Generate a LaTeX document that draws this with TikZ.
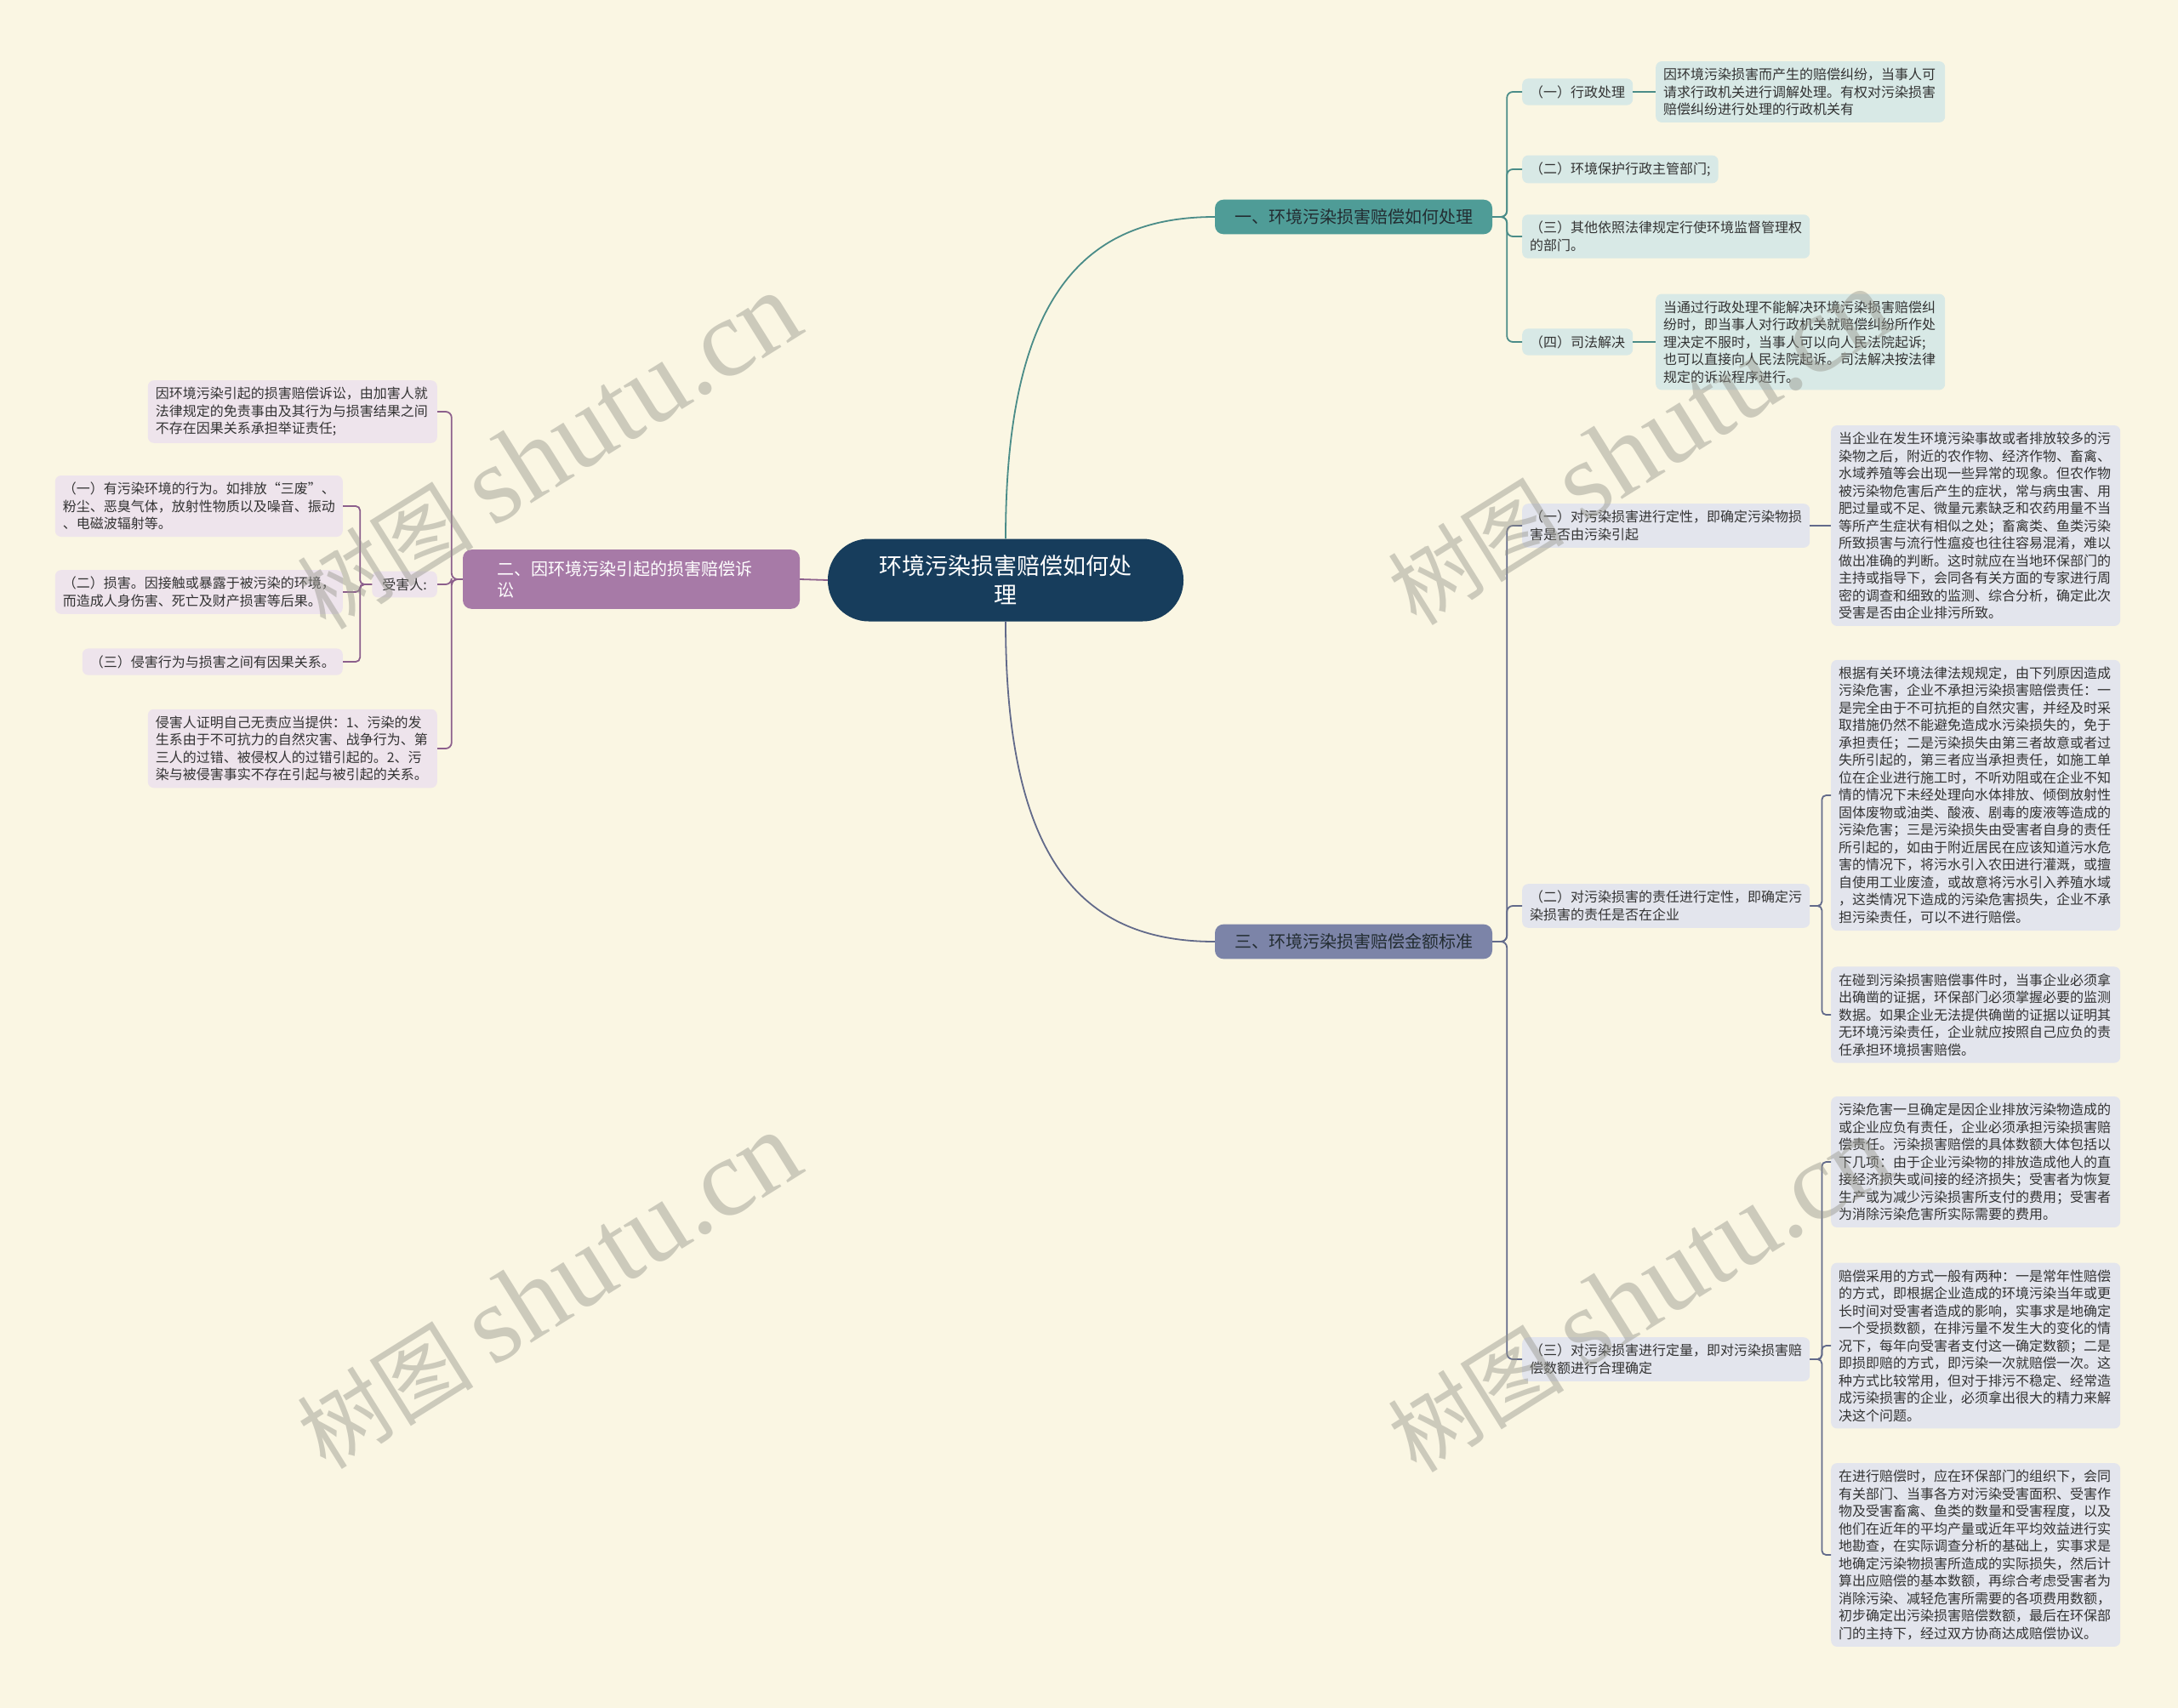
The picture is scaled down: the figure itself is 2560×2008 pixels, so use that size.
\documentclass[tikz,border=0pt]{standalone}
\usepackage{fontspec}
\setmainfont{Noto Sans CJK SC}
\newfontfamily\wmfont{Liberation Serif}
\usetikzlibrary{positioning}

\definecolor{bgcream}{RGB}{250,246,227}
\definecolor{rootblue}{RGB}{23,61,92}
\definecolor{tealmain}{RGB}{79,156,151}
\definecolor{teallight}{RGB}{216,233,230}
\definecolor{teallink}{RGB}{74,140,136}
\definecolor{plummain}{RGB}{167,122,167}
\definecolor{plumlight}{RGB}{238,228,236}
\definecolor{plumlink}{RGB}{140,95,140}
\definecolor{slatemain}{RGB}{124,132,168}
\definecolor{slatelight}{RGB}{227,229,237}
\definecolor{slatelink}{RGB}{98,106,138}
\definecolor{inktext}{RGB}{51,51,51}
\definecolor{darktext}{RGB}{35,45,50}
\definecolor{wmgray}{RGB}{150,150,140}

\begin{document}
\begin{tikzpicture}[x=1pt, y=-1pt,
    rootbox/.style={fill=rootblue, text=white, rounded corners=48pt, minimum width=418pt,
        minimum height=97pt, align=center, font=\fontsize{27}{34}\selectfont},
    mainbox/.style={rounded corners=10pt, inner xsep=23pt, inner ysep=11pt, align=left,
        font=\fontsize{20}{25}\selectfont},
    subbox/.style={rounded corners=7pt, inner xsep=9pt, inner ysep=8pt, align=left,
        text=inktext, font=\fontsize{16}{20.5}\selectfont},
    leafbox/.style={subbox, text width=322pt},
    link/.style={line width=1.8pt, rounded corners=7pt},
    watermark/.style={text=wmgray, opacity=0.45, rotate=32}
]
    \useasboundingbox (0,0) rectangle (2560,2008);
    \fill[bgcream] (0,0) rectangle (2560,2008);

    % Root
    \node[rootbox] (root) at (1182,682) {环境污染损害赔偿如何处\\理};

    % Main branches
    \node[mainbox, fill=tealmain, text=darktext] (b1) at (1591,255) {一、环境污染损害赔偿如何处理};
    \node[mainbox, fill=plummain, text=white, text width=316pt, inner xsep=40pt, inner ysep=13pt] (b2) at (742,681)
        {二、因环境污染引起的损害赔偿诉\\讼};
    \node[mainbox, fill=slatemain, text=darktext] (b3) at (1591,1107) {三、环境污染损害赔偿金额标准};

    \draw[link, teallink] (root.north) .. controls +(0,-290) and +(-150,0) .. (b1.west);
    \draw[link, plumlink] (root.west) -- (b2.east);
    \draw[link, slatelink] (root.south) .. controls +(0,290) and +(-150,0) .. (b3.west);

    % Branch one
    \node[subbox, fill=teallight, anchor=west] (c11) at (1789,108) {（一）行政处理};
    \node[subbox, fill=teallight, anchor=west] (c12) at (1789,199) {（二）环境保护行政主管部门;};
    \node[subbox, fill=teallight, anchor=west] (c13) at (1789,278)
        {（三）其他依照法律规定行使环境监督管理权\\的部门。};
    \node[subbox, fill=teallight, anchor=west] (c14) at (1789,402) {（四）司法解决};
    \node[leafbox, fill=teallight, anchor=west] (l11) at (1946,108)
        {因环境污染损害而产生的赔偿纠纷，当事人可\\请求行政机关进行调解处理。有权对污染损害\\赔偿纠纷进行处理的行政机关有};
    \node[leafbox, fill=teallight, anchor=west] (l14) at (1946,402)
        {当通过行政处理不能解决环境污染损害赔偿纠\\纷时，即当事人对行政机关就赔偿纠纷所作处\\理决定不服时，当事人可以向人民法院起诉;\\也可以直接向人民法院起诉。司法解决按法律\\规定的诉讼程序进行。};

    \foreach \c in {c11,c12,c13,c14}
        \draw[link, teallink] (b1.east) -- ++(17,0) |- (\c.west);
    \draw[link, teallink] (c11.east) -- (l11.west);
    \draw[link, teallink] (c14.east) -- (l14.west);

    % Branch two
    \node[subbox, fill=plumlight, anchor=east, text width=322pt] (p1) at (514,484)
        {因环境污染引起的损害赔偿诉讼，由加害人就\\法律规定的免责事由及其行为与损害结果之间\\不存在因果关系承担举证责任;};
    \node[subbox, fill=plumlight, anchor=east, inner xsep=12pt] (victim) at (514,687) {受害人:};
    \node[subbox, fill=plumlight, anchor=east, text width=322pt] (p3) at (514,880)
        {侵害人证明自己无责应当提供：1、污染的发\\生系由于不可抗力的自然灾害、战争行为、第\\三人的过错、被侵权人的过错引起的。2、污\\染与被侵害事实不存在引起与被引起的关系。};
    \node[subbox, fill=plumlight, anchor=east] (v1) at (403,595)
        {（一）有污染环境的行为。如排放“三废”、\\粉尘、恶臭气体，放射性物质以及噪音、振动\\、电磁波辐射等。};
    \node[subbox, fill=plumlight, anchor=east] (v2) at (403,696)
        {（二）损害。因接触或暴露于被污染的环境，\\而造成人身伤害、死亡及财产损害等后果。};
    \node[subbox, fill=plumlight, anchor=east] (v3) at (403,778) {（三）侵害行为与损害之间有因果关系。};

    \foreach \c in {p1,victim,p3}
        \draw[link, plumlink] (b2.west) -- ++(-13,0) |- (\c.east);
    \foreach \c in {v1,v2,v3}
        \draw[link, plumlink, rounded corners=5pt] (victim.west) -- ++(-14,0) |- (\c.east);

    % Branch three
    \node[subbox, fill=slatelight, anchor=west] (c31) at (1789,618)
        {（一）对污染损害进行定性，即确定污染物损\\害是否由污染引起};
    \node[subbox, fill=slatelight, anchor=west] (c32) at (1789,1065)
        {（二）对污染损害的责任进行定性，即确定污\\染损害的责任是否在企业};
    \node[subbox, fill=slatelight, anchor=west] (c33) at (1789,1598)
        {（三）对污染损害进行定量，即对污染损害赔\\偿数额进行合理确定};

    \node[leafbox, fill=slatelight, anchor=west] (l31) at (2152,618)
        {当企业在发生环境污染事故或者排放较多的污\\染物之后，附近的农作物、经济作物、畜禽、\\水域养殖等会出现一些异常的现象。但农作物\\被污染物危害后产生的症状，常与病虫害、用\\肥过量或不足、微量元素缺乏和农药用量不当\\等所产生症状有相似之处；畜禽类、鱼类污染\\所致损害与流行性瘟疫也往往容易混淆，难以\\做出准确的判断。这时就应在当地环保部门的\\主持或指导下，会同各有关方面的专家进行周\\密的调查和细致的监测、综合分析，确定此次\\受害是否由企业排污所致。};
    \node[leafbox, fill=slatelight, anchor=west] (l32a) at (2152,935)
        {根据有关环境法律法规规定，由下列原因造成\\污染危害，企业不承担污染损害赔偿责任：一\\是完全由于不可抗拒的自然灾害，并经及时采\\取措施仍然不能避免造成水污染损失的，免于\\承担责任；二是污染损失由第三者故意或者过\\失所引起的，第三者应当承担责任，如施工单\\位在企业进行施工时，不听劝阻或在企业不知\\情的情况下未经处理向水体排放、倾倒放射性\\固体废物或油类、酸液、剧毒的废液等造成的\\污染危害；三是污染损失由受害者自身的责任\\所引起的，如由于附近居民在应该知道污水危\\害的情况下，将污水引入农田进行灌溉，或擅\\自使用工业废渣，或故意将污水引入养殖水域\\，这类情况下造成的污染危害损失，企业不承\\担污染责任，可以不进行赔偿。};
    \node[leafbox, fill=slatelight, anchor=west] (l32b) at (2152,1193)
        {在碰到污染损害赔偿事件时，当事企业必须拿\\出确凿的证据，环保部门必须掌握必要的监测\\数据。如果企业无法提供确凿的证据以证明其\\无环境污染责任，企业就应按照自己应负的责\\任承担环境损害赔偿。};
    \node[leafbox, fill=slatelight, anchor=west] (l33a) at (2152,1366)
        {污染危害一旦确定是因企业排放污染物造成的\\或企业应负有责任，企业必须承担污染损害赔\\偿责任。污染损害赔偿的具体数额大体包括以\\下几项：由于企业污染物的排放造成他人的直\\接经济损失或间接的经济损失；受害者为恢复\\生产或为减少污染损害所支付的费用；受害者\\为消除污染危害所实际需要的费用。};
    \node[leafbox, fill=slatelight, anchor=west] (l33b) at (2152,1582)
        {赔偿采用的方式一般有两种：一是常年性赔偿\\的方式，即根据企业造成的环境污染当年或更\\长时间对受害者造成的影响，实事求是地确定\\一个受损数额，在排污量不发生大的变化的情\\况下，每年向受害者支付这一确定数额；二是\\即损即赔的方式，即污染一次就赔偿一次。这\\种方式比较常用，但对于排污不稳定、经常造\\成污染损害的企业，必须拿出很大的精力来解\\决这个问题。};
    \node[leafbox, fill=slatelight, anchor=west] (l33c) at (2152,1828)
        {在进行赔偿时，应在环保部门的组织下，会同\\有关部门、当事各方对污染受害面积、受害作\\物及受害畜禽、鱼类的数量和受害程度，以及\\他们在近年的平均产量或近年平均效益进行实\\地勘查，在实际调查分析的基础上，实事求是\\地确定污染物损害所造成的实际损失，然后计\\算出应赔偿的基本数额，再综合考虑受害者为\\消除污染、减轻危害所需要的各项费用数额，\\初步确定出污染损害赔偿数额，最后在环保部\\门的主持下，经过双方协商达成赔偿协议。};

    \foreach \c in {c31,c32,c33}
        \draw[link, slatelink] (b3.east) -- ++(17,0) |- (\c.west);
    \draw[link, slatelink] (c31.east) -- (l31.west);
    \foreach \c in {l32a,l32b}
        \draw[link, slatelink, rounded corners=5pt] (c32.east) -- ++(14,0) |- (\c.west);
    \foreach \c in {l33a,l33b,l33c}
        \draw[link, slatelink, rounded corners=5pt] (c33.east) -- ++(14,0) |- (\c.west);

    % Watermarks
    \foreach \wx/\wy [count=\i] in {645/531, 1927/526, 645/1518, 1927/1522}
        \node[watermark] (wm\i) at (\wx,\wy)
            {\fontsize{104}{104}\selectfont 树图 \wmfont\fontsize{130}{130}\selectfont shutu.cn};
\end{tikzpicture}
\end{document}
